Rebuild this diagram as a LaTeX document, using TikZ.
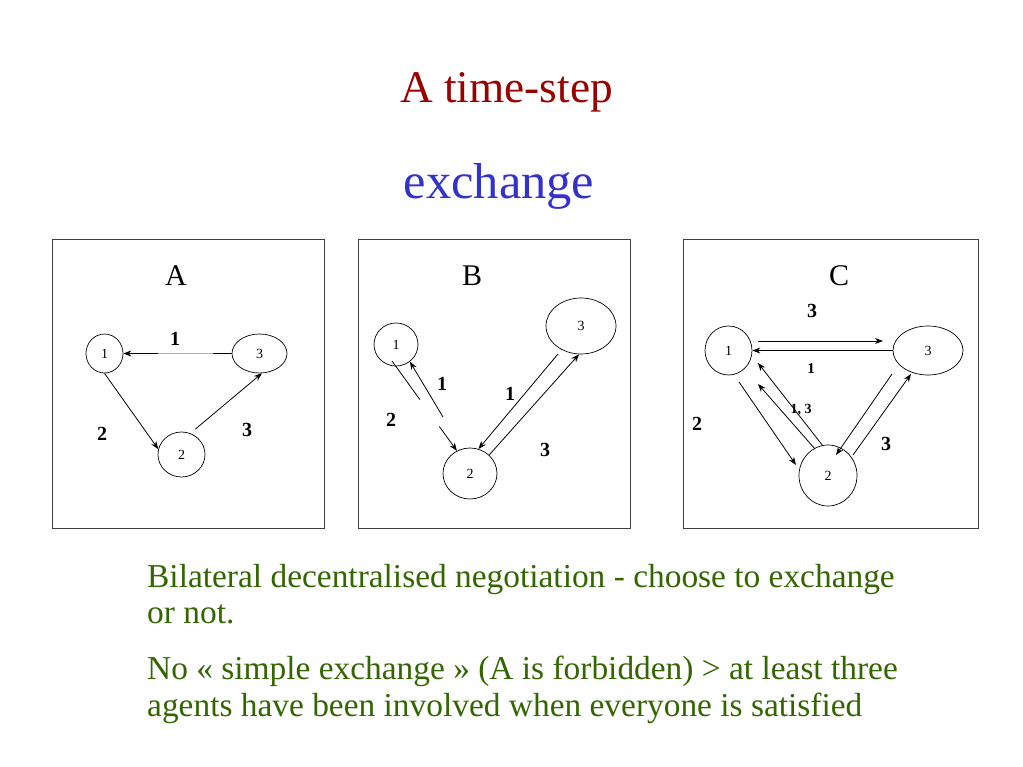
\documentclass[tikz,border=0pt]{standalone}
\usepackage{fontspec}
\setmainfont{Liberation Serif}
\usetikzlibrary{arrows.meta,shapes.geometric,calc}
\definecolor{titlered}{RGB}{153,0,0}
\definecolor{titleblue}{RGB}{51,51,204}
\definecolor{textgreen}{RGB}{51,102,0}
\tikzset{
  agent/.style={draw, ellipse, inner sep=0pt, line width=0.7pt, font=\fontsize{14}{14}\selectfont},
  frame/.style={draw=black!75, line width=0.9pt},
  arr/.style={line width=0.8pt, -{Stealth[length=8pt,width=6pt]}},
  plain/.style={line width=0.8pt},
  elab/.style={font=\fontsize{20}{20}\selectfont\bfseries, inner sep=0pt},
  slab/.style={font=\fontsize{14}{14}\selectfont\bfseries, inner sep=0pt},
  plab/.style={font=\fontsize{30}{30}\selectfont, inner sep=0pt},
  body/.style={font=\fontsize{33.4}{38}\selectfont, text=textgreen, anchor=base west, inner sep=0pt},
}
\begin{document}
\begin{tikzpicture}[x=1pt,y=-1pt]
\useasboundingbox (0,0) rectangle (1023,767);
% titles
\node[anchor=base, text=titlered, font=\fontsize{45.3}{45}\selectfont, inner sep=0pt] (t1) at (506.5,103) {A time-step};
\node[anchor=base, text=titleblue, font=\fontsize{50.5}{50}\selectfont, inner sep=0pt] (t2) at (499,199) {exchange};
% frames
\draw[frame] (52,239) rectangle (324,528);
\draw[frame] (358,239) rectangle (630,528);
\draw[frame] (683,239) rectangle (978,528);
% ---------- Panel A
\node[plab] (lA) at (176,276) {A};
\node[agent, minimum width=37pt, minimum height=39pt] (A1) at (104.5,353.5) {1};
\node[agent, minimum width=55pt, minimum height=39pt] (A3) at (259.5,353.5) {3};
\node[agent, minimum width=47pt, minimum height=45pt] (A2) at (181.5,454.5) {2};
\draw[arr] (A3.west) -- (A1.east);
\draw[line width=0.9pt, black!30] (158,353.5) -- (213,353.5);
\draw[arr] (A1.south) -- (A2.167);
\draw[arr] ($(A2.62)+(3,-5)$) -- (A3.-83);
\node[elab] (a1) at (175,339) {1};
\node[elab] (a2) at (102,434) {2};
\node[elab] (a3) at (247,430) {3};
% ---------- Panel B
\node[plab] (lB) at (472,276) {B};
\node[agent, minimum width=44pt, minimum height=43pt] (B1) at (396,344.5) {1};
\node[agent, minimum width=70pt, minimum height=56pt] (B3) at (581,326) {3};
\node[agent, minimum width=54pt, minimum height=51pt] (B2) at (470,473.5) {2};
\coordinate (bs) at (392,361);
\coordinate (be) at (B2.120);
\draw[plain] (bs) -- ($(bs)!0.43!(be)$);
\draw[arr] ($(bs)!0.73!(be)$) -- (be);
\coordinate (bf) at (443,417);
\draw[arr] (bf) -- (B1.-51);
\draw[arr] (558,354) -- (B2.71);
\draw[arr] (B2.44) -- (B3.-94);
\node[elab] (b1) at (442,384) {1};
\node[elab] (b2) at (391,420) {2};
\node[elab] (b3) at (510,394) {1};
\node[elab] (b4) at (545,450) {3};
% ---------- Panel C
\node[plab] (lC) at (839,276) {C};
\node[agent, minimum width=47pt, minimum height=49pt] (C1) at (728.5,350.5) {1};
\node[agent, minimum width=70pt, minimum height=49pt] (C3) at (928,350.5) {3};
\node[agent, minimum width=58pt, minimum height=61pt] (C2) at (828,475.5) {2};
\coordinate (c13s) at (758,341);
\coordinate (c13e) at (883,341);
\draw[arr] (c13s) -- (c13e);
\draw[arr] (C3.west) -- (C1.east);
\coordinate (c12s) at (739,382);
\coordinate (c12e) at (796,465);
\draw[arr] (c12s) -- (c12e);
\coordinate (c21a) at (758,363);
\coordinate (c21b) at (758,384);
\draw[arr] (823,446) -- (c21a);
\draw[arr] (815,449) -- (c21b);
\coordinate (c32s) at (892,374);
\coordinate (c32e) at (836,455);
\draw[arr] (c32s) -- (c32e);
\coordinate (c23s) at (853,455);
\coordinate (c23e) at (911,374);
\draw[arr] (c23s) -- (c23e);
\node[elab] (c1) at (812,311) {3};
\node[elab, font=\fontsize{15}{15}\selectfont\bfseries] (c2) at (811,369) {1};
\node[elab] (c3) at (697,424) {2};
\node[slab] (c4) at (801,410) {1, 3};
\node[elab] (c5) at (886,444) {3};
% ---------- body text
\node[body] (p1) at (147,587) {Bilateral decentralised negotiation - choose to exchange};
\node[body] (p2) at (147,623) {or not.};
\node[body] (p3) at (147,679) {No « simple exchange » (A is forbidden) > at least three};
\node[body] (p4) at (147,716) {agents have been involved when everyone is satisfied};
\end{tikzpicture}
\end{document}
